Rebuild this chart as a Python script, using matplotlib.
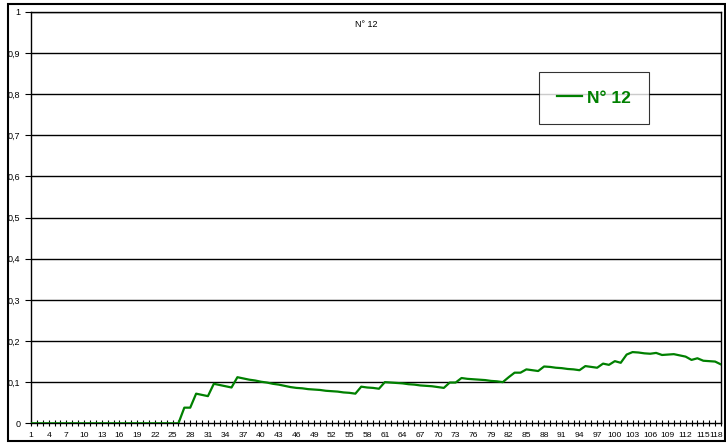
import matplotlib
matplotlib.use("Agg")
import matplotlib.pyplot as plt
from matplotlib.patches import Rectangle
from matplotlib.ticker import FuncFormatter
from matplotlib.transforms import ScaledTranslation

plt.rcParams['font.family'] = ['Liberation Sans', 'DejaVu Sans']

categories = list(range(1, 119))
series_name = "N° 12"
values = [0.0] * 26 + [
    0.038, 0.038, 0.072, 0.069, 0.066, 0.096, 0.093, 0.090, 0.087, 0.112,  # 27-36
    0.109, 0.106, 0.104, 0.101, 0.099, 0.096, 0.094, 0.091, 0.088, 0.086,  # 37-46
    0.085, 0.083, 0.082, 0.081, 0.079, 0.078, 0.077, 0.075, 0.074, 0.072,  # 47-56
    0.089, 0.087, 0.086, 0.084, 0.100, 0.099, 0.098, 0.097, 0.095, 0.094,  # 57-66
    0.092, 0.091, 0.090, 0.088, 0.086, 0.099, 0.099, 0.110, 0.108, 0.107,  # 67-76
    0.106, 0.105, 0.103, 0.102, 0.100, 0.112, 0.123, 0.123, 0.131, 0.129,  # 77-86
    0.127, 0.138, 0.137, 0.135, 0.134, 0.132, 0.131, 0.129, 0.139, 0.137,  # 87-96
    0.135, 0.145, 0.142, 0.151, 0.147, 0.167, 0.173, 0.172, 0.170, 0.169,  # 97-106
    0.171, 0.166, 0.167, 0.168, 0.165, 0.162, 0.154, 0.158, 0.152, 0.151,  # 107-116
    0.150, 0.143,                                                          # 117-118
]
y_ticks = [round(0.1 * k, 1) for k in range(11)]
x_label_step = 3

W, H = 726, 445
fig = plt.figure(figsize=(W / 100, H / 100), dpi=100)
fig.patch.set_facecolor('white')

# outer chart frame
fig.patches.append(Rectangle((8 / W, 4 / H), (725 - 8) / W, (441 - 4) / H,
                             transform=fig.transFigure, fill=False,
                             edgecolor='black', linewidth=1.5))

ax = fig.add_axes([31 / W, (H - 423.3) / H, 690 / W, 411.6 / H])
ax.set_facecolor('white')

green = '#008000'
line, = ax.plot(categories, values, color=green, linewidth=1.6, label=series_name,
                solid_joinstyle='round', zorder=3)

ax.set_xlim(1, 118)
ax.set_ylim(0, 1)

ax.set_yticks(y_ticks)
ax.yaxis.set_major_formatter(FuncFormatter(
    lambda v, p: '0' if abs(v) < 1e-9 else ('1' if abs(v - 1) < 1e-9 else f"{v:.1f}".replace('.', ','))))
for y in y_ticks[1:]:
    ax.axhline(y, color='black', linewidth=1.0, zorder=1)

ax.set_xticks(categories)
ax.set_xticklabels([str(c) if (c - 1) % x_label_step == 0 else '' for c in categories])

ax.tick_params(axis='x', direction='inout', length=5, width=0.8, labelsize=6.1, pad=4, colors='black')
ax.tick_params(axis='y', direction='out', length=4, width=0.8, labelsize=6.5, pad=3.5, colors='black')
last = ax.get_xticklabels()[-1]
last.set_transform(last.get_transform() + ScaledTranslation(-5 / 100, 0, fig.dpi_scale_trans))

for s in ax.spines.values():
    s.set_color('black')
    s.set_linewidth(1.0)

ax.text(0.486, 0.97, series_name, transform=ax.transAxes, ha='center', va='center', fontsize=6.5)

leg = ax.legend(handles=[line], loc='center', bbox_to_anchor=(594 / W, 1 - 98 / H),
                bbox_transform=fig.transFigure, frameon=True, fancybox=False,
                prop={'weight': 'bold', 'size': 12.5}, handlelength=1.45, handletextpad=0.3,
                borderpad=1.05, borderaxespad=0)
leg.get_frame().set_edgecolor('black')
leg.get_frame().set_linewidth(0.8)
for t in leg.get_texts():
    t.set_color(green)

fig.savefig('out.png', dpi=100, facecolor='white')
